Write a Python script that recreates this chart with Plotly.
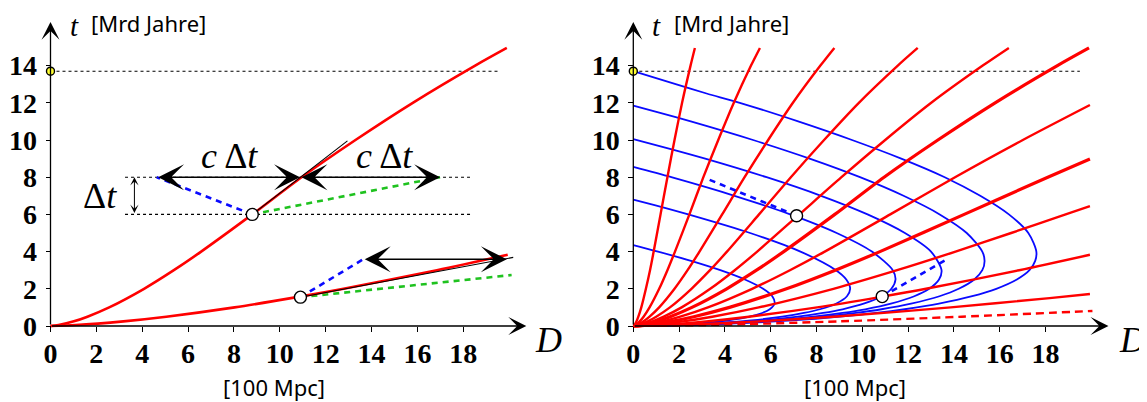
import plotly.graph_objects as go

# ---------------- data ----------------
X_TICKS = [0, 2, 4, 6, 8, 10, 12, 14, 16, 18]
Y_TICKS = [0, 2, 4, 6, 8, 10, 12, 14]
T_NOW = 13.7

# world lines (t in Mrd Jahre, D in 100 Mpc)
T_W = [0, 0.05, 0.25, 0.5, 1, 2, 3, 4, 6, 8, 10, 12, 14, 14.95]
D_A = [0, 0.05, 0.14, 0.22, 0.35, 0.55, 0.73, 0.89, 1.19, 1.49, 1.80, 2.13, 2.50, 2.69]
D_B = [0, 0.10, 0.28, 0.45, 0.71, 1.13, 1.49, 1.82, 2.45, 3.06, 3.71, 4.39, 5.14, 5.53]
D_C = [0, 0.15, 0.45, 0.71, 1.13, 1.80, 2.37, 2.89, 3.88, 4.86, 5.89, 6.97, 8.17, 8.78]
D_D = [0, 0.22, 0.63, 1.00, 1.60, 2.54, 3.35, 4.09, 5.49, 6.88, 8.33, 9.85, 11.55, 12.42]
D_E = [0, 0.29, 0.84, 1.33, 2.11, 3.36, 4.43, 5.41, 7.25, 9.09, 11.00, 13.01, 15.26, 16.40]
D_F = [0, 0.35, 1.02, 1.61, 2.56, 4.08, 5.38, 6.57, 8.80, 10.95, 13.30, 15.80, 18.52, 19.90]

T_G = [0, 0.05, 0.25, 0.5, 1, 2, 3, 4, 6, 8, 10, 11.88]
D_G = [0, 0.44, 1.29, 2.05, 3.26, 5.19, 6.84, 8.36, 11.22, 14.05, 17.01, 19.94]
T_H = [0, 0.05, 0.25, 0.5, 1, 2, 3, 4, 6, 8, 8.98]
D_H = [0, 0.57, 1.66, 2.64, 4.20, 6.69, 8.82, 10.77, 14.45, 18.10, 19.94]
T_I = [0, 0.05, 0.25, 0.5, 1, 2, 3, 4, 5, 6, 6.45]
D_I = [0, 0.74, 2.17, 3.45, 5.48, 8.74, 11.52, 14.07, 16.50, 18.88, 19.94]
T_J = [0, 0.05, 0.25, 0.5, 1, 1.58, 2, 3, 3.83]
D_J = [0, 1.09, 3.18, 5.05, 8.03, 10.87, 12.78, 16.85, 19.94]
T_K = [0, 0.02, 0.05, 0.25, 0.5, 1, 1.5, 1.72]
D_K = [0, 1.02, 1.88, 5.49, 8.72, 13.86, 18.18, 19.94]
T_L = [0, 0.01, 0.02, 0.05, 0.1, 0.25, 0.5, 0.81]
D_L = [0, 1.06, 1.68, 3.08, 4.90, 9.04, 14.34, 20.05]

# past light cones
T_C1 = [4.35, 4.0, 3.5, 3.0, 2.5, 2.0, 1.6, 1.2, 0.9, 0.7, 0.5, 0.3, 0.15, 0.05, 0.01, 0]
D_C1 = [0, 1.08, 2.52, 3.80, 4.87, 5.67, 6.07, 6.17, 5.96, 5.63, 5.07, 4.14, 2.99, 1.65, 0.63, 0]
T_C2 = [6.8, 6.5, 6.0, 5.0, 4.0, 3.0, 2.5, 2.0, 1.6, 1.2, 0.9, 0.7, 0.5, 0.3, 0.15, 0.05, 0.01, 0]
D_C2 = [0, 0.93, 2.40, 5.10, 7.30, 8.85, 9.30, 9.47, 9.33, 8.85, 8.15, 7.45, 6.50, 5.15, 3.60, 1.95, 0.73, 0]
T_C3 = [8.55, 8.0, 7.0, 6.0, 5.0, 4.0, 3.0, 2.5, 2.0, 1.6, 1.2, 0.9, 0.7, 0.5, 0.3, 0.15, 0.05, 0.01, 0]
D_C3 = [0, 1.66, 4.42, 6.85, 8.88, 10.42, 11.33, 11.45, 11.27, 10.85, 10.06, 9.14, 8.29, 7.18, 5.62, 3.90, 2.08, 0.78, 0]
T_C4 = [10.05, 9.5, 9.0, 8.0, 7.0, 6.0, 5.0, 4.0, 3.0, 2.5, 2.0, 1.6, 1.2, 0.9, 0.7, 0.5, 0.3, 0.15, 0.05, 0.01, 0]
D_C4 = [0, 1.68, 3.14, 5.82, 8.20, 10.23, 11.86, 13.00, 13.46, 13.35, 12.92, 12.27, 11.25, 10.13, 9.13, 7.86, 6.11, 4.21, 2.23, 0.83, 0]
T_C5 = [11.85, 11.5, 11.0, 10.0, 9.0, 8.0, 7.0, 6.0, 5.0, 4.0, 3.5, 3.0, 2.5, 2.0, 1.6, 1.2, 0.9, 0.7, 0.5, 0.3, 0.15, 0.05, 0.01, 0]
D_C5 = [0, 1.05, 2.51, 5.23, 7.70, 9.90, 11.80, 13.38, 14.56, 15.24, 15.34, 15.24, 14.89, 14.21, 13.37, 12.13, 10.84, 9.72, 8.31, 6.42, 4.41, 2.32, 0.86, 0]
T_C6 = [13.7, 13.0, 12.5, 12.0, 11.0, 10.0, 9.0, 8.0, 7.0, 6.0, 5.0, 4.0, 3.5, 3.0, 2.5, 2.0, 1.6, 1.2, 0.9, 0.7, 0.5, 0.3, 0.15, 0.05, 0.01, 0]
D_C6 = [0, 1.85, 3.20, 4.65, 7.20, 9.55, 11.70, 13.60, 15.15, 16.40, 17.25, 17.60, 17.55, 17.30, 16.75, 15.85, 14.80, 13.35, 11.85, 10.60, 9.02, 6.94, 4.74, 2.49, 0.92, 0]

# left-panel construction
P1 = (8.8, 6.0)          # emission event
P2 = (10.9, 1.55)        # second event
TAN1_D, TAN1_T = [8.8, 12.95], [6.0, 9.95]
TAN2_D, TAN2_T = [10.9, 20.18], [1.55, 3.69]
BL1_D, BL1_T = [8.8, 4.63], [6.0, 8.0]
GR1_D, GR1_T = [8.8, 16.99], [6.0, 8.0]
BL2_D, BL2_T = [10.9, 13.64], [1.55, 3.59]
GR2_D, GR2_T = [10.9, 20.11], [1.55, 2.74]
ARR1 = (4.63, 10.88, 8.0)
ARR2 = (10.88, 16.99, 8.0)
ARR3 = (13.64, 19.90, 3.59)
DT_ARROW = (3.66, 6.0, 8.0)
GUIDE_D = [3.25, 18.3]
GUIDE_T = [8.0, 6.0]
NOW_LINE_END = 19.5

# right-panel construction
Q1 = (7.13, 5.93)
Q2 = (10.87, 1.58)
BR1_D, BR1_T = [7.13, 3.15], [5.93, 7.95]
BR2_D, BR2_T = [10.87, 13.69], [1.58, 3.59]

RED = '#ff0000'
BLUE = '#0a0aff'
GREEN = '#1fc21f'

# ---------------- figure ----------------
W, H = 1147, 402
OFF = 8   # the page body margin shifts the figure by this many pixels
fig = go.Figure()


def line(x, y, xa, ya, color, width, dash=None, shape='spline'):
    fig.add_trace(go.Scatter(x=x, y=y, xaxis=xa, yaxis=ya, mode='lines',
                             line=dict(color=color, width=width, dash=dash,
                                       shape=shape, smoothing=0.8),
                             hoverinfo='skip', showlegend=False))


def dot(pt, xa, ya, size=12, fill='white'):
    fig.add_trace(go.Scatter(x=[pt[0]], y=[pt[1]], xaxis=xa, yaxis=ya, mode='markers',
                             marker=dict(size=size, color=fill, line=dict(color='black', width=1.4)),
                             cliponaxis=False, hoverinfo='skip', showlegend=False))


# ---- left panel ----
line([0, NOW_LINE_END], [T_NOW, T_NOW], 'x', 'y', 'black', 1.1, '3px,3px', 'linear')
for tt in GUIDE_T:
    line(GUIDE_D, [tt, tt], 'x', 'y', 'black', 1.1, '3px,3px', 'linear')
line(BL1_D, BL1_T, 'x', 'y', BLUE, 2.6, '6px,5px', 'linear')
line(GR1_D, GR1_T, 'x', 'y', GREEN, 2.6, '6px,5px', 'linear')
line(BL2_D, BL2_T, 'x', 'y', BLUE, 2.6, '6px,5px', 'linear')
line(GR2_D, GR2_T, 'x', 'y', GREEN, 2.6, '6px,5px', 'linear')
line(D_F, T_W, 'x', 'y', RED, 2.6)
line(D_J, T_J, 'x', 'y', RED, 2.6)
line(TAN1_D, TAN1_T, 'x', 'y', 'black', 1.1, None, 'linear')
line(TAN2_D, TAN2_T, 'x', 'y', 'black', 1.1, None, 'linear')
dot(P1, 'x', 'y')
dot(P2, 'x', 'y')
dot((0, T_NOW), 'x', 'y', size=8, fill='#ffff33')

# ---- right panel ----
line([0, NOW_LINE_END], [T_NOW, T_NOW], 'x2', 'y2', 'black', 1.1, '3px,3px', 'linear')
for d, t in [(D_C1, T_C1), (D_C2, T_C2), (D_C3, T_C3), (D_C4, T_C4), (D_C5, T_C5), (D_C6, T_C6)]:
    line(d, t, 'x2', 'y2', BLUE, 1.8)
for d in [D_A, D_B, D_C, D_D, D_E]:
    line(d, T_W, 'x2', 'y2', RED, 2.4)
line(D_F, T_W, 'x2', 'y2', RED, 3.2)
line(D_G, T_G, 'x2', 'y2', RED, 2.4)
line(D_H, T_H, 'x2', 'y2', RED, 3.2)
line(D_I, T_I, 'x2', 'y2', RED, 2.4)
line(D_J, T_J, 'x2', 'y2', RED, 2.4)
line(D_K, T_K, 'x2', 'y2', RED, 2.4)
line(D_L, T_L, 'x2', 'y2', RED, 2.4, '8px,5px')
line(BR1_D, BR1_T, 'x2', 'y2', BLUE, 2.6, '6px,5px', 'linear')
line(BR2_D, BR2_T, 'x2', 'y2', BLUE, 2.6, '6px,5px', 'linear')
dot(Q1, 'x2', 'y2')
dot(Q2, 'x2', 'y2')
dot((0, T_NOW), 'x2', 'y2', size=8, fill='#ffff33')

# ---------------- axes (pixel positions are page pixels minus OFF) ----------------
X0_L, SX_L = 50.5 - OFF, 22.93
X0_R, SX_R = 633.3 - OFF, 22.9
Y0, SY = 326.0 - OFF, 18.6
XL_END = 540 - OFF
XR_START = 580 - OFF
XL_RANGE = [-X0_L / SX_L, (XL_END - X0_L) / SX_L]
XR_RANGE = [(XR_START - X0_R) / SX_R, (W - X0_R) / SX_R]
Y_RANGE = [-(H - Y0) / SY, Y0 / SY]
TICKFONT = dict(family='Liberation Serif', size=28, color='black', weight='bold')

xbase = dict(showgrid=False, zeroline=False, showline=False, tickvals=X_TICKS,
             tickcolor='black', tickwidth=1, anchor='free', position=(H - Y0) / H,
             tickfont=TICKFONT, fixedrange=True)
ybase = dict(showgrid=False, zeroline=False, showline=False, tickvals=Y_TICKS,
             tickcolor='black', tickwidth=1, anchor='free', domain=[0, 1],
             tickfont=TICKFONT, fixedrange=True)

fig.update_layout(
    xaxis=dict(xbase, domain=[0, XL_END / W], range=XL_RANGE, ticks='outside', ticklen=5,
               ticklabelstandoff=-3),
    yaxis=dict(ybase, range=Y_RANGE, position=X0_L / W, ticks='outside', ticklen=5,
               ticklabelstandoff=3),
    xaxis2=dict(xbase, domain=[XR_START / W, 1], range=XR_RANGE, ticks='outside', ticklen=5,
                ticklabelstandoff=-3),
    yaxis2=dict(ybase, range=Y_RANGE, position=X0_R / W, ticks='outside', ticklen=5,
                ticklabelstandoff=3),
    xaxis3=dict(xbase, overlaying='x', range=XL_RANGE, ticks='inside', ticklen=4, showticklabels=False),
    yaxis3=dict(ybase, overlaying='y', range=Y_RANGE, position=X0_L / W, ticks='inside', ticklen=4, showticklabels=False),
    xaxis4=dict(xbase, overlaying='x2', range=XR_RANGE, ticks='inside', ticklen=4, showticklabels=False),
    yaxis4=dict(ybase, overlaying='y2', range=Y_RANGE, position=X0_R / W, ticks='inside', ticklen=4, showticklabels=False),
)

ann = []
# axis arrows
for xr, yr in [('x', 'y'), ('x2', 'y2')]:
    ann.append(dict(x=20.75, y=0, ax=0, ay=0, xref=xr, yref=yr, axref=xr, ayref=yr, text='',
                    showarrow=True, arrowhead=3, arrowsize=2.3, arrowwidth=1.3, arrowcolor='black'))
    ann.append(dict(x=0, y=16.35, ax=0, ay=0, xref=xr, yref=yr, axref=xr, ayref=yr, text='',
                    showarrow=True, arrowhead=3, arrowsize=2.3, arrowwidth=1.3, arrowcolor='black'))
# double arrows
for a0, a1, tt in [ARR1, ARR2, ARR3]:
    ann.append(dict(x=a1, y=tt, ax=a0, ay=tt, xref='x', yref='y', axref='x', ayref='y', text='',
                    showarrow=True, arrowhead=3, startarrowhead=3, arrowside='end+start',
                    arrowsize=2.7, startarrowsize=2.7, arrowwidth=1.6, arrowcolor='black'))
ann.append(dict(x=DT_ARROW[0], y=DT_ARROW[2], ax=DT_ARROW[0], ay=DT_ARROW[1], xref='x', yref='y',
                axref='x', ayref='y', text='', showarrow=True, arrowhead=3, startarrowhead=3,
                arrowside='end+start', arrowsize=1.4, startarrowsize=1.4, arrowwidth=1.0,
                arrowcolor='black'))


def label(px, py, text, size, family, xanchor='center'):
    # px, py are page pixels of the reference picture
    ann.append(dict(x=(px - OFF) / W, y=(H - (py - OFF)) / H, xref='paper', yref='paper', text=text,
                    showarrow=False, xanchor=xanchor, yanchor='middle',
                    font=dict(family=family, size=size, color='black')))


for off in [0, 582.8]:
    label(74 + off, 26, '<i>t</i>', 29, 'Liberation Serif')
    label(89 + off, 23, '[Mrd Jahre]', 22, 'Noto Sans', 'left')
label(274, 387, '[100 Mpc]', 22, 'Noto Sans')
label(855, 387, '[100 Mpc]', 22, 'Noto Sans')
label(548, 340, '<i>D</i>', 36, 'Liberation Serif')
label(1132, 340, '<i>D</i>', 36, 'Liberation Serif')
label(229, 156, '<i>c</i>\u2009\u0394<i>t</i>', 36, 'Liberation Serif')
label(384, 156, '<i>c</i>\u2009\u0394<i>t</i>', 36, 'Liberation Serif')
label(100, 196, '\u0394<i>t</i>', 36, 'Liberation Serif')

fig.update_layout(annotations=ann, width=W, height=H,
                  margin=dict(l=0, r=0, t=0, b=0),
                  paper_bgcolor='white', plot_bgcolor='rgba(0,0,0,0)',
                  showlegend=False)

fig.write_html('out.html')
